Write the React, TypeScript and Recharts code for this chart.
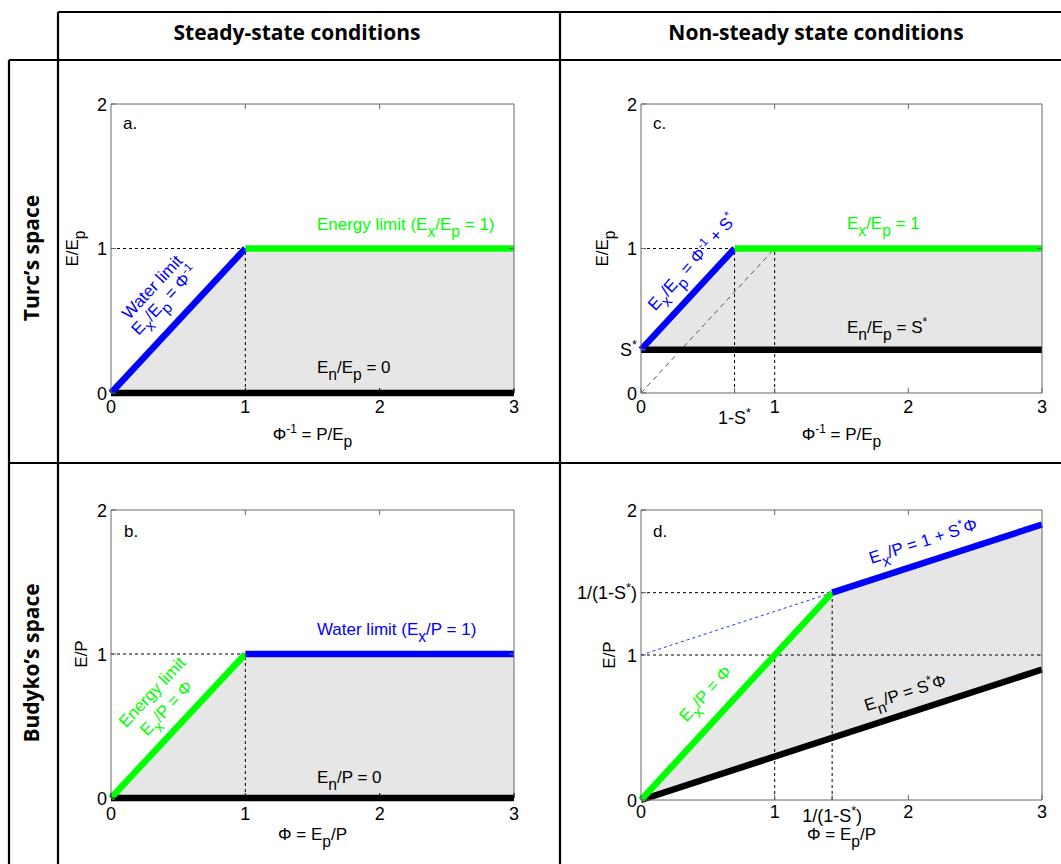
import React from 'react';
import { ComposedChart, Line, Area, XAxis, YAxis, ReferenceLine, ReferenceDot } from 'recharts';

const S_STAR = 0.3;
const INV = 1.43; // 1/(1-S*)

const BASE_X_TICKS = [0, 1, 2, 3];
const BASE_Y_TICKS = [0, 1, 2];
const BASE_X_LABELS = ['0', '1', '2', '3'];
const BASE_Y_LABELS = ['0', '1', '2'];

// a. Turc's space, steady state
const aWaterLimit = [{ x: 0, y: 0 }, { x: 1, y: 1 }];
const aEnergyLimit = [{ x: 1, y: 1 }, { x: 3, y: 1 }];
const aLower = [{ x: 0, y: 0 }, { x: 3, y: 0 }];
const aBand = [{ x: 0, r: [0, 0] }, { x: 1, r: [0, 1] }, { x: 3, r: [0, 1] }];

// b. Budyko's space, steady state
const bEnergyLimit = [{ x: 0, y: 0 }, { x: 1, y: 1 }];
const bWaterLimit = [{ x: 1, y: 1 }, { x: 3, y: 1 }];
const bLower = [{ x: 0, y: 0 }, { x: 3, y: 0 }];
const bBand = [{ x: 0, r: [0, 0] }, { x: 1, r: [0, 1] }, { x: 3, r: [0, 1] }];

// c. Turc's space, non-steady state
const cXTicks = [0, 0.7, 1, 2, 3];
const cXLabels = ['0', '1-S^*', '1', '2', '3'];
const cYTicks = [0, 0.3, 1, 2];
const cYLabels = ['0', 'S^*', '1', '2'];
const cUpper = [{ x: 0, y: 0.3 }, { x: 0.7, y: 1 }];
const cFlat = [{ x: 0.7, y: 1 }, { x: 3, y: 1 }];
const cLower = [{ x: 0, y: 0.3 }, { x: 3, y: 0.3 }];
const cDiagonal = [{ x: 0, y: 0 }, { x: 1, y: 1 }];
const cBand = [{ x: 0, r: [0.3, 0.3] }, { x: 0.7, r: [0.3, 1] }, { x: 3, r: [0.3, 1] }];

// d. Budyko's space, non-steady state
const dXTicks = [0, 1, 1.43, 2, 3];
const dXLabels = ['0', '1', '1/(1-S^*)', '2', '3'];
const dYTicks = [0, 1, 1.43, 2];
const dYLabels = ['0', '1', '1/(1-S^*)', '2'];
const dEnergy = [{ x: 0, y: 0 }, { x: 1.43, y: 1.43 }];
const dWater = [{ x: 1.43, y: 1.43 }, { x: 3, y: 1.9 }];
const dLower = [{ x: 0, y: 0 }, { x: 3, y: 0.9 }];
const dExtension = [{ x: 0, y: 1 }, { x: 1.43, y: 1.43 }];
const dBand = [{ x: 0, r: [0, 0] }, { x: 1.43, r: [0.43, 1.43] }, { x: 3, r: [0.9, 1.9] }];

const BLUE = '#0000ff';
const GREEN = '#00ff00';
const FILL = '#e6e6e6';
const AXIS = '#666';
const FONT = '"Liberation Sans", Arial, sans-serif';

type Part = { t: string; k: 'n' | 'sub' | 'sup' };

function parse(s: string): Part[] {
  const out: Part[] = [];
  let buf = '';
  let i = 0;
  while (i < s.length) {
    const c = s[i];
    if (c === '_' || c === '^') {
      if (buf) out.push({ t: buf, k: 'n' });
      buf = '';
      let t = '';
      if (s[i + 1] === '{') {
        const j = s.indexOf('}', i + 2);
        t = s.slice(i + 2, j);
        i = j + 1;
      } else {
        t = s[i + 1];
        i += 2;
      }
      out.push({ t, k: c === '_' ? 'sub' : 'sup' });
    } else {
      buf += c;
      i++;
    }
  }
  if (buf) out.push({ t: buf, k: 'n' });
  return out;
}

function Rich({ x, y, text, size = 17, fill = '#000', anchor = 'start', rotate = 0, center = false }: any) {
  let shift = 0;
  const spans = parse(text).map((p, i) => {
    const target = p.k === 'sub' ? size * 0.4 : p.k === 'sup' ? -size * 0.4 : 0;
    const dy = target - shift;
    shift = target;
    const fs = p.k === 'n' ? size : p.k === 'sub' ? size * 0.92 : size * 0.7;
    return (
      <tspan key={i} dy={dy} fontSize={fs}>
        {p.t}
      </tspan>
    );
  });
  return (
    <text
      transform={`translate(${x} ${y}) rotate(${rotate})`}
      x={0}
      y={center ? size * 0.35 : 0}
      fill={fill}
      textAnchor={anchor}
      fontFamily={FONT}
      fontSize={size}
      style={{ whiteSpace: 'pre' }}
    >
      {spans}
    </text>
  );
}

function note(key: string, x: number, y: number, text: string, color = '#000', rotate = 0, center = false) {
  return (
    <ReferenceDot
      key={key}
      x={x}
      y={y}
      r={0}
      fill="none"
      stroke="none"
      label={(p: any) => (
        <Rich x={p.viewBox.x} y={p.viewBox.y} text={text} fill={color} rotate={rotate} center={center} anchor={center ? 'middle' : 'start'} />
      )}
    />
  );
}

function dashed(key: string, x1: number, y1: number, x2: number, y2: number, stroke = '#000', dash = '3 3') {
  return (
    <ReferenceLine
      key={key}
      segment={[{ x: x1, y: y1 }, { x: x2, y: y2 }]}
      stroke={stroke}
      strokeWidth={1}
      strokeDasharray={dash}
    />
  );
}

function thick(key: string, data: any[], color: string, width = 6.5) {
  return (
    <Line
      key={key}
      data={data}
      dataKey="y"
      type="linear"
      stroke={color}
      strokeWidth={width}
      dot={false}
      activeDot={false}
      isAnimationActive={false}
    />
  );
}

function band(key: string, data: any[]) {
  return (
    <Area
      key={key}
      data={data}
      dataKey="r"
      type="linear"
      stroke="none"
      fill={FILL}
      fillOpacity={1}
      isAnimationActive={false}
    />
  );
}

// closes the MATLAB-style box: top and right edges with inward ticks
function boxEdges() {
  const out: React.ReactNode[] = [
    <ReferenceLine key="top" y={2} stroke={AXIS} strokeWidth={1} />,
    <ReferenceLine key="right" x={3} stroke={AXIS} strokeWidth={1} />,
  ];
  BASE_X_TICKS.slice(1, -1).forEach((t) =>
    out.push(<ReferenceLine key={`tt${t}`} segment={[{ x: t, y: 2 }, { x: t, y: 1.965 }]} stroke={AXIS} strokeWidth={1} />)
  );
  BASE_Y_TICKS.slice(1, -1).forEach((t) =>
    out.push(<ReferenceLine key={`rt${t}`} segment={[{ x: 3, y: t }, { x: 2.963, y: t }]} stroke={AXIS} strokeWidth={1} />)
  );
  return out;
}

function Panel(props: any) {
  const {
    left, top, width, height, margin, yWidth, xHeight,
    xTicks, xLabels, yTicks, yLabels, xTitle, yTitle,
    xTitleDy, yTitleDx, tickDy, lowTick, lowDy, baseColor = AXIS, children,
  } = props;

  const xTick = (p: any) => {
    const idx = xTicks.indexOf(p.payload.value);
    const extra = p.payload.value === lowTick ? lowDy : 0;
    return <Rich x={p.x} y={p.y + tickDy + extra} text={xLabels[idx] ?? ''} anchor="middle" size={18} />;
  };
  const yTick = (p: any) => {
    const idx = yTicks.indexOf(p.payload.value);
    return <Rich x={p.x} y={p.y + 6.5} text={yLabels[idx] ?? ''} anchor="end" size={18} />;
  };

  return (
    <div style={{ position: 'absolute', left, top, width, height }}>
      <ComposedChart width={width} height={height} margin={margin}>
        <XAxis
          dataKey="x"
          type="number"
          domain={[0, 3]}
          ticks={xTicks}
          interval={0}
          height={xHeight}
          tickSize={-5}
          tickMargin={5}
          stroke={baseColor}
          tick={xTick}
          label={(p: any) => (
            <Rich x={p.viewBox.x + p.viewBox.width / 2} y={p.viewBox.y + xTitleDy} text={xTitle} anchor="middle" />
          )}
        />
        <YAxis
          type="number"
          domain={[0, 2]}
          ticks={yTicks}
          interval={0}
          width={yWidth}
          tickSize={-5}
          tickMargin={9}
          stroke={AXIS}
          tick={yTick}
          label={(p: any) => (
            <Rich
              x={p.viewBox.x + yTitleDx}
              y={p.viewBox.y + p.viewBox.height / 2}
              text={yTitle}
              anchor="middle"
              rotate={-90}
            />
          )}
        />
        {children}
        {boxEdges()}
      </ComposedChart>
    </div>
  );
}

export default function App() {
  return (
    <div style={{ position: 'absolute', left: 0, top: 0, width: 1061, height: 864, background: '#fff', overflow: 'hidden' }}>
      <svg width={1061} height={864} style={{ position: 'absolute', left: 0, top: 0 }}>
        <path
          d="M58 12 H1061 M9 60 H1061 M9 463 H1061 M58 12 V864 M9 60 V864 M560 12 V864"
          stroke="#000"
          strokeWidth={2.2}
          fill="none"
        />
        <g fontFamily="'Open Sans', Lato, sans-serif" fontWeight={700} fontSize={21} fill="#000" textAnchor="middle">
          <text x={297} y={40}>Steady-state conditions</text>
          <text x={816} y={40}>Non-steady state conditions</text>
          <text transform="translate(39 258) rotate(-90)">Turc’s space</text>
          <text transform="translate(39 663) rotate(-90)">Budyko’s space</text>
        </g>
      </svg>

      <Panel
        left={60} top={90} width={480} height={370}
        margin={{ top: 14, right: 26, left: 0, bottom: 0 }}
        yWidth={51} xHeight={67}
        xTicks={BASE_X_TICKS} xLabels={BASE_X_LABELS}
        yTicks={BASE_Y_TICKS} yLabels={BASE_Y_LABELS}
        xTitle="Φ^{-1} = P/E_p" yTitle="E/E_p"
        xTitleDy={47} yTitleDx={18} tickDy={20} baseColor="#000"
      >
        {band('a-band', aBand)}
        {dashed('a-d1', 0, 1, 1, 1)}
        {dashed('a-d2', 1, 0, 1, 1)}
        {thick('a-lower', aLower, '#000')}
        {thick('a-water', aWaterLimit, BLUE)}
        {thick('a-energy', aEnergyLimit, GREEN)}
        {note('a-l', 0.09, 1.827, 'a.')}
        {note('a-e', 1.533, 1.128, 'Energy limit (E_x/E_p = 1)', GREEN)}
        {note('a-n', 1.533, 0.138, 'E_n/E_p = 0')}
        {note('a-w1', 0.305, 0.734, 'Water limit', BLUE, -47, true)}
        {note('a-w2', 0.395, 0.644, 'E_x/E_p = Φ^{-1}', BLUE, -47, true)}
      </Panel>

      <Panel
        left={580} top={90} width={481} height={370}
        margin={{ top: 14, right: 19, left: 0, bottom: 0 }}
        yWidth={61} xHeight={67}
        xTicks={cXTicks} xLabels={cXLabels}
        yTicks={cYTicks} yLabels={cYLabels}
        xTitle="Φ^{-1} = P/E_p" yTitle="E/E_p"
        xTitleDy={47} yTitleDx={28} tickDy={20}
        lowTick={0.7} lowDy={11}
      >
        {band('c-band', cBand)}
        {dashed('c-d1', 0, 1, 1 - S_STAR, 1)}
        {dashed('c-d2', 1 - S_STAR, 0, 1 - S_STAR, 1)}
        {dashed('c-d3', 1, 0, 1, 1)}
        <Line
          data={cDiagonal}
          dataKey="y"
          type="linear"
          stroke="#555"
          strokeWidth={1}
          strokeDasharray="5 4"
          dot={false}
          activeDot={false}
          isAnimationActive={false}
        />
        {thick('c-lower', cLower, '#000')}
        {thick('c-upper', cUpper, BLUE)}
        {thick('c-flat', cFlat, GREEN)}
        {note('c-l', 0.09, 1.827, 'c.')}
        {note('c-e', 1.541, 1.135, 'E_x/E_p = 1', GREEN)}
        {note('c-n', 1.541, 0.415, 'E_n/E_p = S^*')}
        {note('c-w', 0.38, 0.907, 'E_x/E_p = Φ^{-1} + S^*', BLUE, -48, true)}
      </Panel>

      <Panel
        left={60} top={490} width={480} height={374}
        margin={{ top: 20, right: 26, left: 0, bottom: 0 }}
        yWidth={51} xHeight={66}
        xTicks={BASE_X_TICKS} xLabels={BASE_X_LABELS}
        yTicks={BASE_Y_TICKS} yLabels={BASE_Y_LABELS}
        xTitle="Φ = E_p/P" yTitle="E/P"
        xTitleDy={42} yTitleDx={27} tickDy={22} baseColor="#000"
      >
        {band('b-band', bBand)}
        {dashed('b-d1', 0, 1, 1, 1)}
        {dashed('b-d2', 1, 0, 1, 1)}
        {thick('b-lower', bLower, '#000')}
        {thick('b-energy', bEnergyLimit, GREEN)}
        {thick('b-water', bWaterLimit, BLUE)}
        {note('b-l', 0.097, 1.81, 'b.')}
        {note('b-w', 1.533, 1.132, 'Water limit (E_x/P = 1)', BLUE)}
        {note('b-n', 1.533, 0.104, 'E_n/P = 0')}
        {note('b-e1', 0.305, 0.736, 'Energy limit', GREEN, -47, true)}
        {note('b-e2', 0.41, 0.625, 'E_x/P = Φ', GREEN, -47, true)}
      </Panel>

      <Panel
        left={560} top={490} width={501} height={374}
        margin={{ top: 20, right: 19, left: 0, bottom: 0 }}
        yWidth={81} xHeight={64}
        xTicks={dXTicks} xLabels={dXLabels}
        yTicks={dYTicks} yLabels={dYLabels}
        xTitle="Φ = E_p/P" yTitle="E/P"
        xTitleDy={40} yTitleDx={55} tickDy={18}
        lowTick={INV} lowDy={4}
      >
        {band('d-band', dBand)}
        {dashed('d-d1', 0, INV, INV, INV)}
        {dashed('d-d2', 0, 1, 3, 1)}
        {dashed('d-d3', 1, 0, 1, 1)}
        {dashed('d-d4', INV, 0, INV, INV)}
        <Line
          data={dExtension}
          dataKey="y"
          type="linear"
          stroke="#3030ff"
          strokeWidth={1}
          strokeDasharray="3 3"
          dot={false}
          activeDot={false}
          isAnimationActive={false}
        />
        {thick('d-lower', dLower, '#000')}
        {thick('d-energy', dEnergy, GREEN)}
        {thick('d-water', dWater, BLUE)}
        {note('d-l', 0.09, 1.815, 'd.')}
        {note('d-w', 2.11, 1.787, 'E_x/P = 1 + S^*Φ', BLUE, -18, true)}
        {note('d-n', 1.975, 0.741, 'E_n/P = S^*Φ', '#000', -18, true)}
        {note('d-e', 0.479, 0.734, 'E_x/P = Φ', GREEN, -47.6, true)}
      </Panel>
    </div>
  );
}
